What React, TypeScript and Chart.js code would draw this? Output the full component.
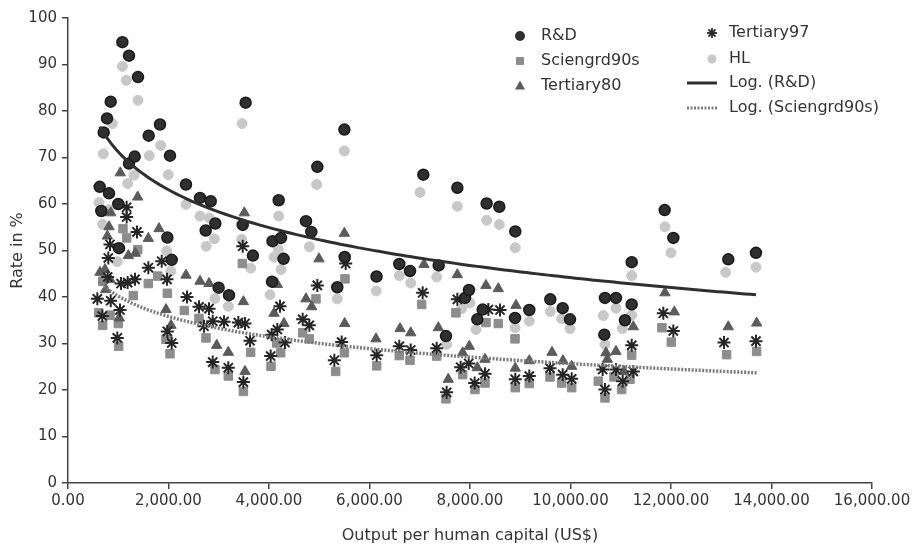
import React, { useEffect, useRef } from 'react';
import { Chart, registerables } from 'chart.js';

Chart.register(...registerables);

// ---------- data ----------
const rdX = [631, 663, 710, 776, 816, 850, 1001, 1015, 1082, 1214, 1214, 1327, 1393, 1606, 1831, 1977, 2030, 2064, 2348, 2627, 2740, 2840, 2931, 2998, 3204, 3477, 3535, 3680, 4060, 4070, 4193, 4239, 4290, 4736, 4842, 4962, 5359, 5500, 5506, 6140, 6593, 6806, 7071, 7377, 7522, 7748, 7900, 7980, 8145, 8252, 8331, 8583, 8896, 8901, 9180, 9598, 9844, 9990, 10673, 10686, 10905, 11084, 11218, 11218, 11874, 12046, 13140, 13691];
const rdY = [63.7, 58.5, 75.4, 78.4, 62.3, 82.0, 60.0, 50.5, 94.8, 91.9, 68.7, 70.2, 87.3, 74.7, 77.1, 52.8, 70.4, 48.0, 64.2, 61.3, 54.3, 60.6, 55.8, 42.0, 40.4, 55.5, 81.8, 48.9, 43.3, 52.0, 60.8, 52.7, 48.2, 56.3, 54.0, 68.0, 42.1, 76.0, 48.6, 44.4, 47.1, 45.6, 66.3, 46.8, 31.6, 63.5, 39.8, 41.5, 35.2, 37.3, 60.1, 59.4, 35.5, 54.1, 37.2, 39.5, 37.6, 35.2, 31.9, 39.8, 39.8, 35.0, 38.4, 47.5, 58.7, 52.7, 48.1, 49.5];

const hlX = [617, 690, 703, 822, 882, 981, 1082, 1161, 1187, 1313, 1393, 1618, 1845, 1964, 1996, 2044, 2348, 2627, 2750, 2812, 2912, 2925, 3190, 3457, 3463, 3635, 4020, 4100, 4186, 4193, 4239, 4803, 4949, 5359, 5500, 6135, 6593, 6820, 7005, 7337, 7535, 7748, 7834, 8000, 8119, 8331, 8583, 8896, 8901, 9180, 9598, 9824, 9990, 10653, 10686, 10905, 11031, 11218, 11218, 11880, 12000, 13088, 13691];
const hlY = [60.3, 55.6, 70.8, 58.8, 77.3, 47.6, 89.6, 86.6, 64.4, 66.2, 82.3, 70.4, 72.6, 49.9, 66.3, 45.6, 59.9, 57.4, 50.9, 57.0, 52.5, 39.7, 38.0, 52.4, 77.3, 46.2, 40.5, 48.6, 50.2, 57.4, 45.9, 50.8, 64.2, 39.6, 71.4, 41.3, 44.6, 43.0, 62.5, 44.3, 29.8, 59.5, 37.5, 38.7, 33.0, 56.5, 55.6, 33.4, 50.6, 34.8, 36.9, 35.3, 33.2, 36.0, 29.8, 37.6, 33.2, 36.1, 44.6, 55.1, 49.5, 45.3, 46.4];

const t80X = [637, 736, 750, 783, 816, 836, 850, 1021, 1041, 1201, 1340, 1387, 1599, 1811, 1950, 2050, 2348, 2627, 2806, 2959, 3190, 3490, 3509, 3522, 4100, 4166, 4298, 4736, 4849, 4995, 5500, 5506, 6129, 6607, 6820, 7084, 7370, 7568, 7748, 7854, 7986, 8145, 8298, 8318, 8563, 8901, 8915, 9180, 9632, 9850, 10023, 10706, 10733, 10905, 11064, 11250, 11880, 12066, 13140, 13704];
const t80Y = [45.3, 45.9, 41.6, 53.1, 55.1, 43.8, 58.1, 35.5, 66.7, 48.9, 49.4, 61.5, 52.6, 54.7, 37.3, 33.9, 44.7, 43.4, 42.9, 29.6, 28.1, 39.0, 58.1, 24.0, 36.5, 42.7, 34.3, 39.6, 37.9, 48.2, 53.7, 34.3, 31.0, 33.2, 32.3, 47.0, 33.4, 22.3, 44.8, 28.0, 29.4, 24.8, 26.6, 42.5, 41.8, 24.7, 38.2, 26.3, 28.1, 26.3, 25.1, 28.0, 26.6, 28.3, 24.0, 33.6, 40.9, 36.8, 33.6, 34.4];

const t97X = [584, 683, 790, 802, 836, 850, 981, 1035, 1055, 1167, 1167, 1187, 1333, 1373, 1599, 1865, 1970, 1977, 2064, 2368, 2607, 2706, 2806, 2880, 2880, 3105, 3190, 3390, 3477, 3490, 3522, 3622, 4033, 4053, 4166, 4219, 4318, 4670, 4803, 4962, 5300, 5446, 5526, 6143, 6593, 6820, 7058, 7337, 7535, 7748, 7814, 7974, 8093, 8298, 8365, 8597, 8901, 9180, 9592, 9844, 10023, 10640, 10686, 10905, 11038, 11218, 11250, 11847, 12046, 13054, 13691];
const t97Y = [39.6, 35.9, 44.3, 48.4, 51.3, 39.2, 31.2, 37.2, 42.9, 59.3, 57.2, 43.1, 43.8, 54.0, 46.3, 47.7, 43.8, 32.6, 30.1, 40.0, 37.9, 33.7, 37.5, 34.8, 26.0, 34.7, 24.8, 34.5, 50.9, 21.7, 34.3, 30.6, 27.3, 31.9, 33.0, 38.0, 30.2, 35.2, 33.9, 42.5, 26.4, 30.3, 47.2, 27.5, 29.4, 28.6, 40.9, 29.0, 19.5, 39.5, 24.9, 25.7, 21.5, 23.5, 37.3, 37.2, 22.3, 23.0, 24.7, 23.3, 22.4, 24.4, 20.1, 24.4, 21.9, 29.6, 24.0, 36.5, 32.7, 30.2, 30.5];

const sciX = [610, 690, 690, 836, 1001, 1008, 1094, 1167, 1300, 1387, 1599, 1785, 1950, 1977, 2030, 2315, 2607, 2746, 2925, 3190, 3470, 3490, 3635, 4040, 4153, 4232, 4670, 4803, 4935, 5327, 5500, 5512, 6143, 6593, 6806, 7038, 7337, 7522, 7720, 7854, 8099, 8298, 8318, 8563, 8896, 8901, 9180, 9592, 9824, 10023, 10553, 10686, 10866, 11018, 11184, 11218, 11820, 12006, 13107, 13704];
const sciY = [36.6, 43.4, 33.9, 36.1, 34.3, 29.4, 54.7, 52.7, 40.3, 50.2, 42.9, 44.5, 30.9, 40.8, 27.8, 37.1, 35.4, 31.2, 24.4, 23.0, 47.2, 19.7, 28.1, 25.1, 30.1, 28.0, 32.3, 31.0, 39.6, 24.0, 28.0, 43.9, 25.2, 27.4, 26.4, 38.4, 27.3, 18.1, 36.6, 23.3, 20.1, 21.5, 34.5, 34.3, 31.0, 20.5, 21.4, 22.8, 21.5, 20.5, 21.9, 18.3, 22.8, 20.1, 22.3, 27.5, 33.4, 30.3, 27.6, 28.3];

// logarithmic trend lines y = a + b·ln(x), coefficients
const rdTrendCoef = [152.3, -11.74];
const sciTrendCoef = [83.7, -6.3];

const xTickValues = [0, 2000, 4000, 6000, 8000, 10000, 12000, 14000, 16000];
const yTickValues = [0, 10, 20, 30, 40, 50, 60, 70, 80, 90, 100];

const FONT = '"DejaVu Sans", sans-serif';
const TEXT = '#333333';

const C_RD = '#2f2f2f';
const C_HL = '#c8c8c8';
const C_SCI = '#8d8d8d';
const C_T80 = '#5b5b5b';
const C_T97 = '#262626';
const C_LOGSCI = '#7c7c7c';

function toPoints(xs: number[], ys: number[]) {
  return xs.map((x, i) => ({ x, y: ys[i] }));
}

// trend line over the x-range of its series
function logTrend(xs: number[], coef: number[], steps: number) {
  const [a, b] = coef;
  const lo = Math.min(...xs), hi = Math.max(...xs);
  const pts = [] as { x: number; y: number }[];
  for (let i = 0; i <= steps; i++) {
    const x = lo + ((hi - lo) * i) / steps;
    pts.push({ x, y: a + b * Math.log(x) });
  }
  return pts;
}

function drawMarker(ctx: CanvasRenderingContext2D, kind: string, x: number, y: number) {
  ctx.save();
  if (kind === 'rd' || kind === 'hl') {
    ctx.beginPath();
    ctx.arc(x, y, kind === 'rd' ? 5 : 4.5, 0, Math.PI * 2);
    ctx.fillStyle = kind === 'rd' ? C_RD : C_HL;
    ctx.fill();
  } else if (kind === 'sci') {
    ctx.fillStyle = C_SCI;
    ctx.fillRect(x - 4, y - 4, 8, 8);
  } else if (kind === 't80') {
    ctx.beginPath();
    ctx.moveTo(x, y - 5.5);
    ctx.lineTo(x + 5, y + 3.5);
    ctx.lineTo(x - 5, y + 3.5);
    ctx.closePath();
    ctx.fillStyle = C_T80;
    ctx.fill();
  } else if (kind === 't97') {
    ctx.strokeStyle = C_T97;
    ctx.lineWidth = 1.8;
    const r = 5;
    for (let k = 0; k < 4; k++) {
      const ang = (k * Math.PI) / 4;
      ctx.beginPath();
      ctx.moveTo(x - Math.cos(ang) * r, y - Math.sin(ang) * r);
      ctx.lineTo(x + Math.cos(ang) * r, y + Math.sin(ang) * r);
      ctx.stroke();
    }
  }
  ctx.restore();
}

const legendPlugin = {
  id: 'customLegend',
  afterDraw(chart: any) {
    const ctx = chart.ctx as CanvasRenderingContext2D;
    ctx.save();
    ctx.font = `16px ${FONT}`;
    ctx.fillStyle = TEXT;
    ctx.textBaseline = 'middle';
    ctx.textAlign = 'left';
    const col1 = [
      { kind: 'rd', label: 'R&D', y: 36 },
      { kind: 'sci', label: 'Sciengrd90s', y: 61 },
      { kind: 't80', label: 'Tertiary80', y: 86 },
    ];
    col1.forEach((it) => {
      drawMarker(ctx, it.kind, 520, it.y);
      ctx.fillStyle = TEXT;
      ctx.fillText(it.label, 541, it.y);
    });
    const col2 = [
      { kind: 't97', label: 'Tertiary97', y: 33 },
      { kind: 'hl', label: 'HL', y: 59 },
      { kind: 'lineRd', label: 'Log. (R&D)', y: 83 },
      { kind: 'lineSci', label: 'Log. (Sciengrd90s)', y: 108 },
    ];
    col2.forEach((it) => {
      if (it.kind === 'lineRd' || it.kind === 'lineSci') {
        ctx.save();
        ctx.beginPath();
        ctx.strokeStyle = it.kind === 'lineRd' ? C_RD : C_LOGSCI;
        ctx.lineWidth = 3;
        if (it.kind === 'lineSci') ctx.setLineDash([2, 1.5]);
        ctx.moveTo(687, it.y);
        ctx.lineTo(717, it.y);
        ctx.stroke();
        ctx.restore();
      } else {
        drawMarker(ctx, it.kind, 712, it.y);
      }
      ctx.fillStyle = TEXT;
      ctx.fillText(it.label, 729, it.y);
    });
    ctx.restore();
  },
};

export default function App() {
  const canvasRef = useRef<HTMLCanvasElement | null>(null);

  useEffect(() => {
    const canvas = canvasRef.current;
    if (!canvas) return;
    const chart = new Chart(canvas, {
      type: 'scatter',
      data: {
        datasets: [
          {
            label: 'Log. (R&D)',
            data: logTrend(rdX, rdTrendCoef, 120),
            showLine: true,
            borderColor: C_RD,
            borderWidth: 3,
            pointRadius: 0,
            order: 0,
          } as any,
          {
            label: 'Log. (Sciengrd90s)',
            data: logTrend(sciX, sciTrendCoef, 120),
            showLine: true,
            borderColor: C_LOGSCI,
            borderWidth: 3.5,
            borderDash: [2, 1.5],
            pointRadius: 0,
            order: 0,
          } as any,
          {
            label: 'R&D',
            data: toPoints(rdX, rdY),
            pointStyle: 'circle',
            pointRadius: 5.5,
            backgroundColor: C_RD,
            borderColor: '#1a1a1a',
            borderWidth: 1.5,
            order: 1,
          },
          {
            label: 'Tertiary97',
            data: toPoints(t97X, t97Y),
            pointStyle: 'star',
            pointRadius: 6.5,
            backgroundColor: C_T97,
            borderColor: C_T97,
            borderWidth: 2,
            order: 2,
          },
          {
            label: 'Tertiary80',
            data: toPoints(t80X, t80Y),
            pointStyle: 'triangle',
            pointRadius: 6,
            backgroundColor: C_T80,
            borderColor: C_T80,
            borderWidth: 1,
            order: 3,
          },
          {
            label: 'Sciengrd90s',
            data: toPoints(sciX, sciY),
            pointStyle: 'rect',
            pointRadius: 6,
            backgroundColor: C_SCI,
            borderColor: C_SCI,
            borderWidth: 1,
            order: 4,
          },
          {
            label: 'HL',
            data: toPoints(hlX, hlY),
            pointStyle: 'circle',
            pointRadius: 5,
            backgroundColor: C_HL,
            borderColor: C_HL,
            borderWidth: 1,
            order: 5,
          },
        ],
      },
      options: {
        responsive: false,
        animation: false,
        devicePixelRatio: 1,
        layout: { padding: { left: 0, right: 44, top: 18, bottom: 0 } },
        plugins: {
          legend: { display: false },
          tooltip: { enabled: false },
        },
        scales: {
          x: {
            type: 'linear',
            min: 0,
            max: 16000,
            afterBuildTicks: (s: any) => {
              s.ticks = xTickValues.map((v) => ({ value: v }));
            },
            afterFit: (s: any) => {
              s.height = 63;
            },
            ticks: {
              color: TEXT,
              font: { family: FONT, size: 15 },
              padding: 3,
              maxRotation: 0,
              autoSkip: false,
              callback: (v: any) =>
                Number(v).toLocaleString('en-US', { minimumFractionDigits: 2, maximumFractionDigits: 2 }),
            },
            grid: { drawOnChartArea: false, drawTicks: true, tickLength: 6, color: '#444', lineWidth: 1.5 },
            border: { display: true, color: '#444', width: 1.5 },
            title: {
              display: true,
              text: 'Output per human capital (US$)',
              color: TEXT,
              font: { family: FONT, size: 16 },
              padding: { top: 0, bottom: 1 },
            },
          },
          y: {
            type: 'linear',
            min: 0,
            max: 100,
            afterBuildTicks: (s: any) => {
              s.ticks = yTickValues.map((v) => ({ value: v }));
            },
            afterFit: (s: any) => {
              s.width = 68;
            },
            ticks: {
              color: TEXT,
              font: { family: FONT, size: 15 },
              padding: 5,
              autoSkip: false,
            },
            grid: { drawOnChartArea: false, drawTicks: true, tickLength: 6, color: '#444', lineWidth: 1.5 },
            border: { display: true, color: '#444', width: 1.5 },
            title: {
              display: true,
              text: 'Rate in %',
              color: TEXT,
              font: { family: FONT, size: 16 },
              padding: { top: 8, bottom: 0 },
            },
          },
        },
      } as any,
      plugins: [legendPlugin],
    });
    return () => chart.destroy();
  }, []);

  return (
    <div style={{ position: 'absolute', left: 0, top: 0, width: 916, height: 546, background: '#fff' }}>
      <canvas ref={canvasRef} width={916} height={546} style={{ width: 916, height: 546, display: 'block' }} />
    </div>
  );
}
